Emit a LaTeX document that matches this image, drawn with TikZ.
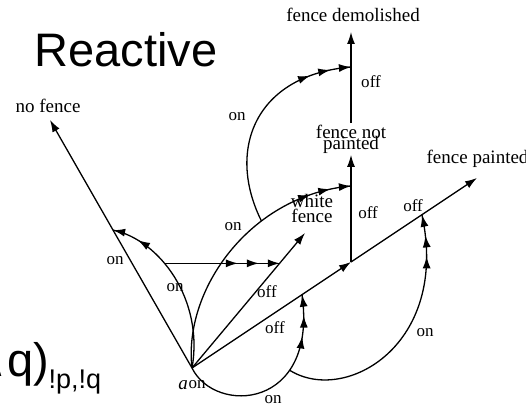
\documentclass[tikz,border=0pt]{standalone}
\usepackage{fontspec}
\setmainfont{Liberation Serif}
\newfontfamily\headfont{Liberation Sans}
\newfontfamily\symfont{DejaVu Sans}
\usetikzlibrary{positioning, arrows.meta, decorations.markings}

\begin{document}
\begin{tikzpicture}[x=1pt,y=1pt,>={Latex[length=12pt,width=8pt]},line width=1.3pt]

	\tikzstyle{state}=[font=\fontsize{19}{19}\selectfont,inner sep=1pt,align=center]
	\tikzstyle{cond}=[font=\fontsize{17}{17}\selectfont,inner sep=0pt]
	\tikzstyle{big}=[font=\headfont\fontsize{47}{47}\selectfont,inner sep=0pt]
	\tikzstyle{twotips}=[postaction={decorate},decoration={markings,
		mark=at position -0.1pt with {\arrow{>}},
		mark=at position -27pt with {\arrow{>}}}]
	\tikzstyle{threetips}=[postaction={decorate},decoration={markings,
		mark=at position -0.1pt with {\arrow{>}},
		mark=at position -21pt with {\arrow{>}},
		mark=at position -42pt with {\arrow{>}}}]

	\useasboundingbox (0,0) rectangle (526,406);

	% title and the formula cut off at the left
	\node[big,anchor=base west] (title) at (34,339) {Reactive};
	\node[big,anchor=base east] (formula) at (50,29) {(p{\symfont ∧}q)};
	\node[anchor=base west,inner sep=0pt,font=\headfont\fontsize{27}{27}\selectfont] (formsub) at (48,18) {!p,!q};

	% states
	\coordinate (a) at (192,38);
	\coordinate (nf) at (50,286);
	\coordinate (wf) at (305,173);
	\coordinate (s1) at (351,144);
	\coordinate (fp) at (477,228);
	\coordinate (r2) at (351,220);
	\coordinate (b2) at (351,339);
	\coordinate (fd) at (351,374);

	\node[state,anchor=base] (nfl) at (48,293) {no fence};
	\node[state] (wfl) at (312,197) {white\\[-4pt]fence};
	\node[state,anchor=base west] (fpl) at (425,242) {fence painted};
	\node[state] (fnp) at (351,267) {fence not\\[-8pt]painted};
	\node[state,anchor=base] (fdl) at (353,384) {fence demolished};
	\node[state,font=\fontsize{19}{19}\selectfont\itshape] (al) at (183,21) {a};

	% straight transitions
	\draw[->] (a) -- (nf) coordinate[pos=0.556] (n1);
	\draw[->] (a) -- (wf) coordinate[pos=0.778] (w1);
	\draw[->] (a) -- (s1) coordinate[pos=0.692] (c1e);
	\draw[->] (s1) -- (fp) coordinate[pos=0.563] (c2e);
	\draw[->] (s1) -- (fnp);
	\draw[->] (fnp) -- (fd);

	% curved transitions
	\draw[twotips] (a) .. controls (204,106) and (160,166) .. (n1) coordinate[pos=0.6] (hl);
	\draw[threetips] (hl) -- (hl -| w1);
	\draw[threetips] (a) .. controls (183,116) and (250,211) .. (r2) coordinate[pos=0.66] (rb);
	\draw[threetips] (rb) .. controls (226,256) and (255,331) .. (b2);
	\draw[threetips] (a) .. controls (215,-9) and (318,-4) .. (c1e) coordinate[pos=0.7] (c1m);
	\draw[threetips] (c1m) .. controls (345,1) and (450,61) .. (c2e);

	% labels
	\node[cond] (on1) at (115,145) {on};
	\node[cond] (on2) at (175,118) {on};
	\node[cond] (on3) at (233,179) {on};
	\node[cond] (on4) at (237,289) {on};
	\node[cond] (on5) at (197,21) {on};
	\node[cond] (on6) at (273,6) {on};
	\node[cond] (on7) at (425,73) {on};
	\node[cond] (off1) at (267,114) {off};
	\node[cond] (off2) at (275,78) {off};
	\node[cond] (off3) at (368,193) {off};
	\node[cond] (off4) at (413,200) {off};
	\node[cond] (off5) at (371,324) {off};
\end{tikzpicture}
\end{document}
